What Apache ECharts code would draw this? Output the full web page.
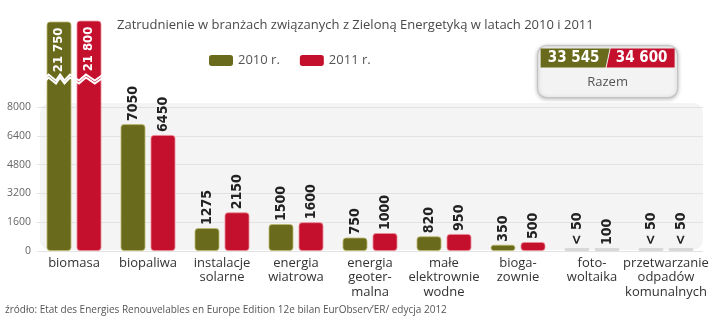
<!DOCTYPE html>
<html><head><meta charset="utf-8">
<script src="https://cdn.jsdelivr.net/npm/echarts@6/dist/echarts.min.js"></script>
<style>html,body{margin:0;padding:0;background:#fff}#c{width:720px;height:330px}</style>
</head><body><div id="c"></div><script>
const titleText = 'Zatrudnienie w branżach związanych z Zieloną Energetyką w latach 2010 i 2011';
const sourceText = 'źródło: Etat des Energies Renouvelables en Europe Edition 12e bilan EurObserv\u2019ER/ edycja 2012';
const categories = ['biomasa', 'biopaliwa', 'instalacje\nsolarne', 'energia\nwiatrowa', 'energia\ngeoter-\nmalna', 'małe\nelektrownie\nwodne', 'bioga-\nzownie', 'foto-\nwoltaika', 'przetwarzanie\nodpadów\nkomunalnych'];
const seriesNames = ['2010 r.', '2011 r.'];
const values2010 = [21750, 7050, 1275, 1500, 750, 820, 350, 40, 40];
const values2011 = [21800, 6450, 2150, 1600, 1000, 950, 500, 100, 40];
const labels2010 = ['21 750', '7050', '1275', '1500', '750', '820', '350', '< 50', '< 50'];
const labels2011 = ['21 800', '6450', '2150', '1600', '1000', '950', '500', '100', '< 50'];
const yTicks = [0, 1600, 3200, 4800, 6400, 8000];
const totals = ['33 545', '34 600'];
const totalLabel = 'Razem';

const GREEN = '#6a6a1c', RED = '#c5102d', SMALL = '#d8d8d8';
const LABEL_FONT = '"DejaVu Sans Condensed", "DejaVu Sans", sans-serif';
const TEXT_FONT = '"Open Sans", Roboto, sans-serif';

function buildData(vals) {
  return vals.map((v, i) => {
    const item = { value: v };
    if (v < 200) item.itemStyle = { color: SMALL, borderColor: SMALL };
    if (i === 0) item.label = { position: 'insideTop', align: 'right', color: '#fff', distance: 6, fontSize: 13 };
    return item;
  });
}

const chart = echarts.init(document.getElementById('c'), null, { renderer: 'canvas' });
const labelBase = {
  show: true, position: 'top', rotate: 90, align: 'left', verticalAlign: 'middle',
  distance: 3, fontFamily: LABEL_FONT, fontWeight: 'bold', fontSize: 14, color: '#222'
};
chart.setOption({
  animation: false,
  title: {
    text: titleText, left: 112, top: 14,
    textStyle: { fontFamily: TEXT_FONT, fontSize: 13, fontWeight: 'normal', color: '#4a4a4a' }
  },
  legend: {
    data: seriesNames, left: 204, top: 49, itemWidth: 24, itemHeight: 11, itemGap: 20,
    icon: 'roundRect',
    itemStyle: { borderWidth: 0 },
    textStyle: { fontFamily: TEXT_FONT, fontSize: 13, color: '#555' }
  },
  grid: [
    { left: 37, right: 17, top: 17, bottom: 79 },
    { left: 37, right: 17, top: 107, bottom: 79 }
  ],
  xAxis: [
    {
      type: 'category', gridIndex: 0, data: categories,
      axisLine: { show: false }, axisTick: { show: false },
      axisLabel: { interval: 0, margin: 5, fontFamily: TEXT_FONT, fontSize: 13, lineHeight: 14.5, color: '#333' }
    },
    { type: 'category', gridIndex: 1, data: categories, show: false }
  ],
  yAxis: [
    {
      type: 'value', gridIndex: 0, min: 0, max: 22000,
      breaks: [{ start: 9500, end: 18650, gap: 150 }],
      breakArea: {
        show: true,
        itemStyle: { color: 'rgba(255,255,255,0)', borderColor: '#ffffff', borderWidth: 2, borderType: 'solid', opacity: 1 },
        zigzagAmplitude: 3, zigzagMinSpan: 4, zigzagMaxSpan: 9, zigzagZ: 50, expandOnClick: false
      },
      axisLine: { show: false }, axisTick: { show: false }, axisLabel: { show: false }, splitLine: { show: false }
    },
    {
      type: 'value', gridIndex: 1,
      min: yTicks[0], max: yTicks[yTicks.length - 1], interval: yTicks[1] - yTicks[0],
      axisLine: { show: false }, axisTick: { show: false },
      axisLabel: { margin: 6, fontFamily: TEXT_FONT, fontSize: 10.5, color: '#666', formatter: v => String(v) },
      splitLine: { lineStyle: { color: '#e2e2e2', width: 1 } }
    }
  ],
  graphic: [
    { type: 'rect', z: -10, shape: { x: 40, y: 103, width: 663, height: 147, r: 10 }, style: { fill: '#f4f4f4' } },
    {
      type: 'group', left: 537, top: 45, z: 300,
      children: [
        { type: 'rect', z: 300, shape: { x: 0, y: 0, width: 140, height: 52, r: 9 },
          style: { fill: '#f3f3f3', stroke: '#c4c4c4', lineWidth: 1.2, shadowBlur: 4, shadowColor: 'rgba(0,0,0,0.25)', shadowOffsetY: 1 } },
        { type: 'polygon', z: 301, shape: { points: [[3, 3], [72, 3], [68, 22], [3, 22]] }, style: { fill: GREEN } },
        { type: 'polygon', z: 301, shape: { points: [[73, 3], [137, 3], [137, 22], [69, 22]] }, style: { fill: RED } },
        { type: 'text', z: 302, style: { text: totals[0], x: 36, y: 13, align: 'center', verticalAlign: 'middle', fill: '#fff', font: 'bold 15px ' + LABEL_FONT } },
        { type: 'text', z: 302, style: { text: totals[1], x: 104, y: 13, align: 'center', verticalAlign: 'middle', fill: '#fff', font: 'bold 15px ' + LABEL_FONT } },
        { type: 'text', z: 302, style: { text: totalLabel, x: 70, y: 37, align: 'center', verticalAlign: 'middle', fill: '#555', font: '13px ' + TEXT_FONT } }
      ]
    },
    { type: 'text', left: 5, top: 305, style: { text: sourceText, fill: '#555', font: '10px ' + TEXT_FONT } }
  ],
  series: [
    {
      name: seriesNames[0], type: 'bar', xAxisIndex: 0, yAxisIndex: 0,
      data: buildData(values2010), barWidth: 25, barGap: '20%', barMinHeight: 3,
      itemStyle: { color: GREEN, borderColor: 'rgba(190,185,110,0.8)', borderWidth: 1, borderRadius: 3 },
      label: Object.assign({}, labelBase, { formatter: p => labels2010[p.dataIndex] })
    },
    {
      name: seriesNames[1], type: 'bar', xAxisIndex: 0, yAxisIndex: 0,
      data: buildData(values2011), barWidth: 25, barGap: '20%', barMinHeight: 3,
      itemStyle: { color: RED, borderColor: 'rgba(235,140,150,0.8)', borderWidth: 1, borderRadius: 3 },
      label: Object.assign({}, labelBase, { formatter: p => labels2011[p.dataIndex] })
    }
  ]
});
</script></body></html>
